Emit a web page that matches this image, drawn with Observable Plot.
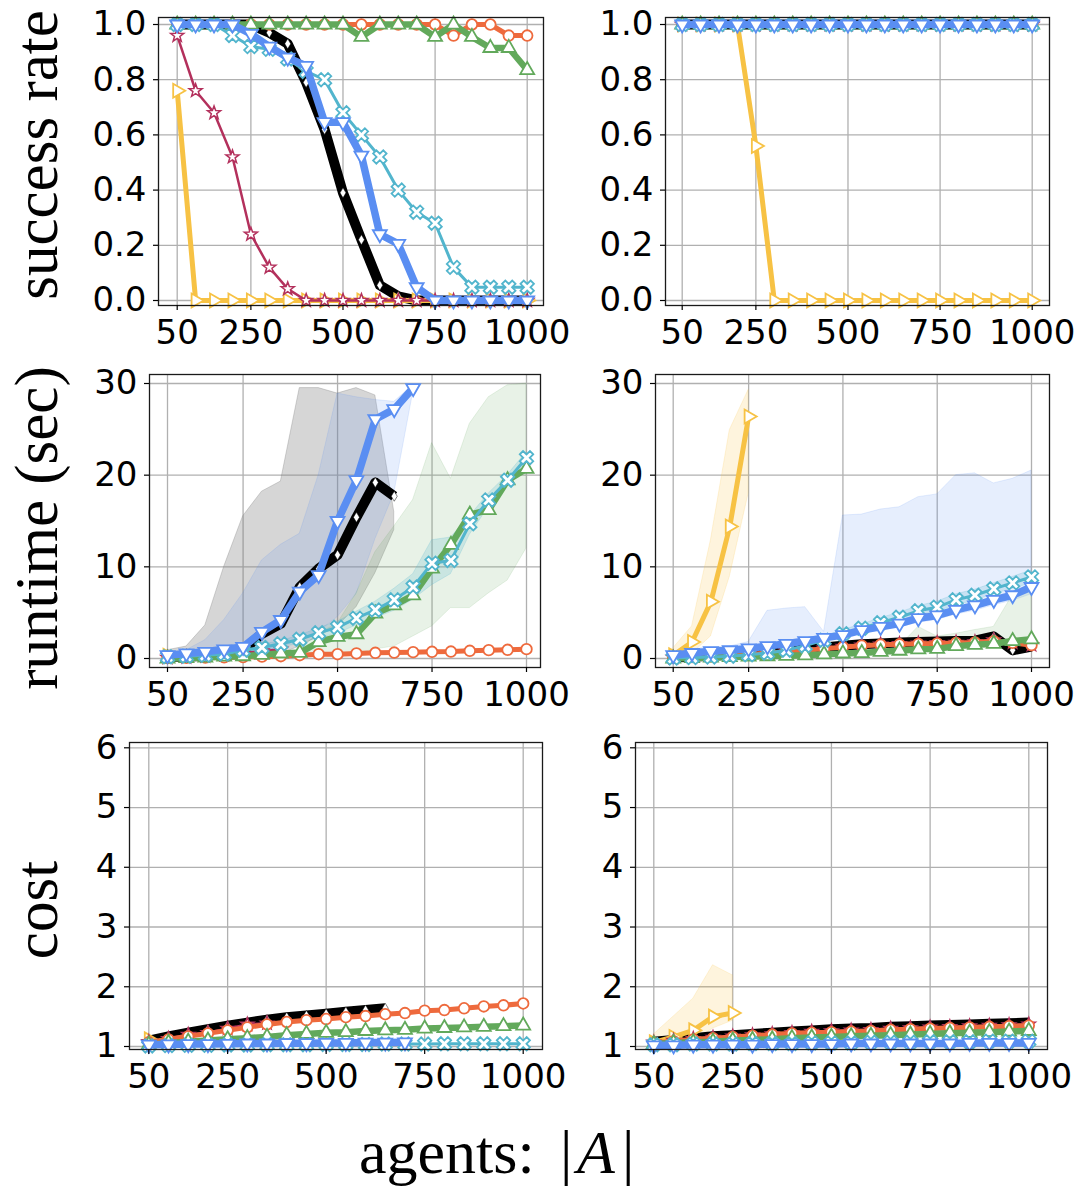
<!DOCTYPE html>
<html><head><meta charset="utf-8">
<script src="https://cdn.jsdelivr.net/npm/d3@7"></script>
<script src="https://cdn.jsdelivr.net/npm/@observablehq/plot@0.6"></script>
<style>
body{margin:0;background:#fff;}
#fig{position:relative;width:1078px;height:1192px;overflow:hidden;background:#fff;}
</style></head><body><div id="fig"></div><script>
const N = null;
// ---------- data ----------
const agents = [50,100,150,200,250,300,350,400,450,500,550,600,650,700,750,800,850,900,950,1000];
const xTickValues = [50,250,500,750,1000];
const successTicks = [0,0.2,0.4,0.6,0.8,1.0];
const runtimeTicks = [0,10,20,30];
const costTicks = [1,2,3,4,5,6];
const yLabels = ["success rate","runtime (sec)","cost"];
const xLabelText = "agents: ";

// success rate, left column
const successL_black   = [1,1,1,1,1,0.97,0.93,0.79,0.62,0.39,0.22,0.055,0.015,0,0,0,0,0,0,0];
const successL_yellow  = [0.76,0,0,0,0,0,0,0,0,0,0,0,0,0,0,0,0,0,0,0];
const successL_crimson = [0.96,0.76,0.68,0.52,0.24,0.12,0.042,0,0,0,0,0,0,0,0,0,0,0,0,0];
const successL_orange  = [1,1,1,1,1,1,1,1,1,1,1,1,1,1,1,0.96,1,1,0.96,0.96];
const successL_green   = [1,1,1,1,1,1,1,1,1,1,0.955,1,1,1,0.955,1,0.955,0.915,0.915,0.835];
const successL_cyan    = [1,1,1,0.96,0.92,0.91,0.875,0.83,0.80,0.68,0.60,0.52,0.40,0.32,0.28,0.12,0.048,0.048,0.048,0.048];
const successL_blue    = [1,1,1,1,0.966,0.92,0.88,0.85,0.646,0.646,0.525,0.24,0.205,0.048,0,0,0,0,0,0];

// success rate, right column
const successR_black   = [1,1,1,1,1,1,1,1,1,1,1,1,1,1,1,1,1,1,1,1];
const successR_yellow  = [1,1,1,1,0.56,0,0,0,0,0,0,0,0,0,0,0,0,0,0,0];
const successR_crimson = [1,1,1,1,1,1,1,1,1,1,1,1,1,1,1,1,1,1,1,1];
const successR_orange  = [1,1,1,1,1,1,1,1,1,1,1,1,1,1,1,1,1,1,1,1];
const successR_green   = [1,1,1,1,1,1,1,1,1,1,1,1,1,1,1,1,1,1,1,1];
const successR_cyan    = [1,1,1,1,1,1,1,1,1,1,1,1,1,1,1,1,1,1,1,1];
const successR_blue    = [1,1,1,1,1,1,1,1,1,1,1,1,1,1,1,1,1,1,1,1];

// runtime, left column
const runtimeL_black   = [0.2,0.2,0.3,0.6,0.9,2.7,3.8,7.8,9.8,11.3,15.4,19.2,17.7,N,N,N,N,N,N,N];
const runtimeL_yellow  = [0.3,N,N,N,N,N,N,N,N,N,N,N,N,N,N,N,N,N,N,N];
const runtimeL_crimson = [0.1,0.15,0.25,0.4,0.6,0.8,1.0,N,N,N,N,N,N,N,N,N,N,N,N,N];
const runtimeL_orange  = [0.05,0.07,0.1,0.12,0.15,0.2,0.25,0.36,0.47,0.47,0.55,0.62,0.65,0.69,0.73,0.76,0.84,0.91,0.95,1.02];
const runtimeL_green   = [0,0.05,0.1,0.2,0.25,0.4,0.55,0.62,1.8,2.36,2.65,4.9,5.8,6.9,9.8,12.4,15.7,16.2,19.45,20.7];
const runtimeL_cyan    = [0.2,0.25,0.35,0.5,0.9,1.2,1.6,2.1,2.8,3.4,4.4,5.3,6.4,7.8,10.4,10.7,14.7,17.3,19.45,21.9];
const runtimeL_blue    = [0.36,0.55,0.73,1.0,1.27,2.9,4.2,7.3,9.1,15.0,19.45,26.1,27.2,29.5,N,N,N,N,N,N];
const runtimeL_blackLo = [0,0,0,0,0.1,0.2,0.5,1.3,2.4,3.5,5.6,9.3,14,N,N,N,N,N,N,N];
const runtimeL_blackHi = [0.9,1.3,3.6,10,15.5,18.2,19.3,29.5,29.5,28.9,29.5,28.7,16,N,N,N,N,N,N,N];
const runtimeL_blueLo  = [0,0.1,0.2,0.3,0.5,0.8,1.2,2.0,2.9,4.5,7.0,13,18,29,N,N,N,N,N,N];
const runtimeL_blueHi  = [0.55,0.9,2,4.2,7.1,10.7,12.4,13.6,20,28.9,28.5,28.2,28.0,29.8,N,N,N,N,N,N];
const runtimeL_greenLo = [0,0,0,0,0,0.05,0.1,0.2,0.4,0.6,0.5,1.0,1.3,2.4,3.5,5.5,5.5,7.1,8.5,12];
const runtimeL_greenHi = [0.1,0.15,0.2,0.3,0.4,0.5,0.7,1.0,2.7,3.8,7.1,11.6,14.4,17.3,23.5,19.6,25.6,28.5,29.8,30];
const runtimeL_cyanLo  = [0.1,0.1,0.2,0.3,0.6,0.9,1.2,1.6,2.2,2.7,3.6,4.4,5.2,6.4,8.0,9.2,13.5,16.5,18.8,21.3];
const runtimeL_cyanHi  = [0.3,0.4,0.5,0.7,1.2,1.5,1.9,2.5,3.3,4.0,5.1,6.2,7.6,9.2,12.9,13.2,15.5,18,20,22.5];

// runtime, right column
const runtimeR_black   = [0.1,0.2,0.3,0.4,0.55,0.7,0.85,1.0,1.2,1.4,1.55,1.65,1.75,1.8,1.85,1.9,1.95,2.4,0.9,1.3];
const runtimeR_yellow  = [0.35,1.8,6.2,14.4,26.4,N,N,N,N,N,N,N,N,N,N,N,N,N,N,N];
const runtimeR_crimson = [0.1,0.18,0.28,0.38,0.5,0.65,0.8,0.95,1.1,1.3,1.45,1.55,1.6,1.65,1.7,1.75,1.8,2.0,1.75,1.5];
const runtimeR_orange  = [0.08,0.15,0.25,0.35,0.45,0.6,0.75,0.9,1.05,1.25,1.4,1.5,1.55,1.6,1.65,1.7,1.75,1.9,1.7,1.45];
const runtimeR_green   = [0,0.05,0.1,0.15,0.2,0.25,0.3,0.35,0.45,0.55,0.6,0.73,0.85,1.0,1.05,1.35,1.5,1.6,1.9,2.1];
const runtimeR_cyan    = [0.05,0.1,0.15,0.25,0.4,0.6,0.9,1.4,2.0,2.7,3.3,3.9,4.5,5.2,5.6,6.4,6.9,7.6,8.25,8.9];
const runtimeR_blue    = [0.36,0.6,0.8,0.9,1.1,1.35,1.6,1.9,2.25,2.55,3.1,3.45,3.8,4.4,4.7,5.3,5.8,6.4,6.9,7.8];
const runtimeR_yellowLo = [0,0.5,2.4,8.9,18,N,N,N,N,N,N,N,N,N,N,N,N,N,N,N];
const runtimeR_yellowHi = [1.1,3.5,12.9,24.9,29.3,N,N,N,N,N,N,N,N,N,N,N,N,N,N,N];
const runtimeR_blueLo  = [0.1,0.3,0.5,0.6,0.8,1.0,1.2,1.5,1.9,2.2,2.7,3.1,3.4,3.9,4.2,4.8,5.2,5.8,6.3,7.0];
const runtimeR_blueHi  = [0.7,1.0,1.2,1.3,1.8,5.2,5.45,5.6,2.9,15.6,15.7,16.25,16.5,17.6,17.9,20,20.2,19.1,19.6,20.5];
const runtimeR_greenLo = [0,0,0,0.05,0.1,0.1,0.15,0.2,0.25,0.3,0.35,0.45,0.55,0.7,0.75,0.95,1.1,1.2,1.5,1.7];
const runtimeR_greenHi = [0.1,0.15,0.2,0.25,0.3,0.4,0.45,0.5,0.65,0.8,0.9,1.0,1.3,3.45,2.4,2.7,3.1,3.45,6.9,7.45];
const runtimeR_cyanLo  = [0,0.05,0.1,0.15,0.3,0.45,0.7,1.1,1.7,2.4,3.0,3.5,4.1,4.7,5.1,5.8,6.3,7.0,7.6,8.2];
const runtimeR_cyanHi  = [0.15,0.2,0.3,0.4,0.6,0.8,1.1,1.7,2.4,3.1,3.7,4.4,5.0,5.7,6.2,7.0,7.5,8.2,8.9,9.6];

// cost, left column
const costL_black   = [1.1,1.17,1.23,1.29,1.35,1.4,1.45,1.49,1.52,1.55,1.58,1.61,1.64,N,N,N,N,N,N,N];
const costL_yellow  = [1.12,N,N,N,N,N,N,N,N,N,N,N,N,N,N,N,N,N,N,N];
const costL_crimson = [1.08,1.13,1.2,1.23,1.3,1.37,1.39,N,N,N,N,N,N,N,N,N,N,N,N,N];
const costL_orange  = [1.07,1.12,1.17,1.22,1.27,1.32,1.37,1.41,1.44,1.46,1.49,1.51,1.54,1.56,1.6,1.61,1.64,1.67,1.69,1.72];
const costL_green   = [1.03,1.06,1.08,1.1,1.12,1.14,1.16,1.19,1.21,1.23,1.24,1.26,1.27,1.28,1.3,1.31,1.32,1.33,1.34,1.35];
const costL_cyan    = [1.01,1.015,1.02,1.02,1.025,1.025,1.03,1.03,1.03,1.035,1.035,1.035,1.04,1.04,1.04,1.045,1.045,1.045,1.045,1.045];
const costL_blue    = [1.03,1.035,1.04,1.04,1.045,1.05,1.05,1.055,1.055,1.06,1.06,1.065,1.065,1.07,N,N,N,N,N,N];

// cost, right column
const costR_black   = [1.08,1.11,1.14,1.17,1.19,1.21,1.23,1.25,1.27,1.29,1.3,1.31,1.33,1.34,1.35,1.36,1.37,1.38,1.39,1.4];
const costR_yellow  = [1.07,1.16,1.27,1.5,1.56,N,N,N,N,N,N,N,N,N,N,N,N,N,N,N];
const costR_crimson = [1.07,1.1,1.13,1.15,1.17,1.19,1.21,1.23,1.25,1.26,1.27,1.28,1.3,1.31,1.32,1.33,1.34,1.35,1.36,1.37];
const costR_orange  = [1.06,1.09,1.12,1.14,1.16,1.18,1.2,1.22,1.23,1.24,1.25,1.26,1.28,1.29,1.3,1.31,1.32,1.33,1.34,1.35];
const costR_green   = [1.04,1.06,1.07,1.08,1.1,1.11,1.12,1.14,1.15,1.16,1.17,1.18,1.19,1.2,1.21,1.22,1.23,1.24,1.25,1.26];
const costR_cyan    = [1.03,1.03,1.04,1.04,1.04,1.05,1.05,1.05,1.06,1.06,1.06,1.07,1.07,1.07,1.08,1.08,1.08,1.09,1.09,1.09];
const costR_blue    = [1.02,1.02,1.03,1.03,1.03,1.03,1.04,1.04,1.04,1.04,1.05,1.05,1.05,1.05,1.05,1.05,1.06,1.06,1.06,1.06];
const costR_yellowLo = [1.0,1.03,1.07,1.3,1.43,N,N,N,N,N,N,N,N,N,N,N,N,N,N,N];
const costR_yellowHi = [1.2,1.5,1.8,2.36,2.19,N,N,N,N,N,N,N,N,N,N,N,N,N,N,N];

// ---------- styles ----------
function polySym(pts) {
  return {draw(ctx, size) {
    const R = Math.sqrt(size / Math.PI);
    ctx.moveTo(pts[0][0]*R, pts[0][1]*R);
    for (let i = 1; i < pts.length; i++) ctx.lineTo(pts[i][0]*R, pts[i][1]*R);
    ctx.closePath();
  }};
}
const triDown = polySym([[0,1.15],[-0.996,-0.575],[0.996,-0.575]]);
const triUp = polySym([[0,-1.15],[0.996,0.575],[-0.996,0.575]]);
const triRight = polySym([[1.15,0],[-0.575,0.996],[-0.575,-0.996]]);
const diamondSym = polySym([[0,-1],[0.6,0],[0,1],[-0.6,0]]);
const starSym = polySym(d3.range(10).map(i => {
  const a = -Math.PI/2 + i*Math.PI/5, rr = i % 2 ? 0.47 : 1.15;
  return [rr*Math.cos(a), rr*Math.sin(a)];
}));
const xSym = (() => {
  const a = 0.32, L = 1.0;
  const plus = [[a,-L],[a,-a],[L,-a],[L,a],[a,a],[a,L],[-a,L],[-a,a],[-L,a],[-L,-a],[-a,-a],[-a,-L]];
  return polySym(plus.map(([x,y]) => [(x-y)/Math.SQRT2, (x+y)/Math.SQRT2]));
})();
const circleSym = {draw(ctx, size){ const R = Math.sqrt(size/Math.PI); ctx.moveTo(R,0); ctx.arc(0,0,R,0,2*Math.PI); ctx.closePath(); }};

const seriesStyle = {
  black:   {color:"#000000", lw:10,  sym:diamondSym, r:5,   mstroke:"#000000", msw:0.5},
  yellow:  {color:"#f7c244", lw:5,   sym:triRight,   r:7,   mstroke:"#f7c244", msw:1.8},
  crimson: {color:"#b3305c", lw:2.5, sym:starSym,    r:6,   mstroke:"#b3305c", msw:1.5},
  orange:  {color:"#ee6a3d", lw:5,   sym:circleSym,  r:5.3, mstroke:"#ee6a3d", msw:1.8},
  green:   {color:"#62a95b", lw:6.5, sym:triUp,      r:7,   mstroke:"#62a95b", msw:1.8},
  cyan:    {color:"#52b5cd", lw:3,   sym:xSym,       r:7.2, mstroke:"#52b5cd", msw:1.8},
  blue:    {color:"#5a8ef2", lw:7.5, sym:triDown,    r:7,   mstroke:"#5a8ef2", msw:1.8}
};
const drawOrder = ["black","yellow","crimson","orange","green","cyan","blue"];
const bandStyle = {
  black:  {color:"#808080", opacity:0.32},
  blue:   {color:"#5a8ef2", opacity:0.15},
  green:  {color:"#62a95b", opacity:0.15},
  cyan:   {color:"#52b5cd", opacity:0.2},
  yellow: {color:"#f7c244", opacity:0.18}
};

const panels = [
  {frame:[158,17,543,305], xRef:[176.7,526.7], yRef:[[0,300],[1,24]], yTicks:successTicks, yFmt:d3.format(".1f"),
   series:{black:successL_black,yellow:successL_yellow,crimson:successL_crimson,orange:successL_orange,green:successL_green,cyan:successL_cyan,blue:successL_blue}, bands:[]},
  {frame:[665,17,1049,305], xRef:[681.7,1031.7], yRef:[[0,300],[1,24]], yTicks:successTicks, yFmt:d3.format(".1f"),
   series:{black:successR_black,yellow:successR_yellow,crimson:successR_crimson,orange:successR_orange,green:successR_green,cyan:successR_cyan,blue:successR_blue}, bands:[]},
  {frame:[149,374,540,667], xRef:[167,526], yRef:[[0,658],[30,383]], yTicks:runtimeTicks, yFmt:d3.format("d"),
   series:{black:runtimeL_black,yellow:runtimeL_yellow,crimson:runtimeL_crimson,orange:runtimeL_orange,green:runtimeL_green,cyan:runtimeL_cyan,blue:runtimeL_blue},
   bands:[["black",runtimeL_blackLo,runtimeL_blackHi],["blue",runtimeL_blueLo,runtimeL_blueHi],["green",runtimeL_greenLo,runtimeL_greenHi],["cyan",runtimeL_cyanLo,runtimeL_cyanHi]]},
  {frame:[655,374,1049,667], xRef:[672.7,1031], yRef:[[0,658],[30,383]], yTicks:runtimeTicks, yFmt:d3.format("d"),
   series:{black:runtimeR_black,yellow:runtimeR_yellow,crimson:runtimeR_crimson,orange:runtimeR_orange,green:runtimeR_green,cyan:runtimeR_cyan,blue:runtimeR_blue},
   bands:[["yellow",runtimeR_yellowLo,runtimeR_yellowHi],["blue",runtimeR_blueLo,runtimeR_blueHi],["green",runtimeR_greenLo,runtimeR_greenHi],["cyan",runtimeR_cyanLo,runtimeR_cyanHi]]},
  {frame:[129,742,542,1049], xRef:[148.3,522.7], yRef:[[1,1046],[6,747.3]], yTicks:costTicks, yFmt:d3.format("d"),
   series:{black:costL_black,yellow:costL_yellow,crimson:costL_crimson,orange:costL_orange,green:costL_green,cyan:costL_cyan,blue:costL_blue}, bands:[]},
  {frame:[635,742,1047,1049], xRef:[653.3,1028.3], yRef:[[1,1046],[6,747.3]], yTicks:costTicks, yFmt:d3.format("d"),
   series:{black:costR_black,yellow:costR_yellow,crimson:costR_crimson,orange:costR_orange,green:costR_green,cyan:costR_cyan,blue:costR_blue},
   bands:[["yellow",costR_yellowLo,costR_yellowHi]]}
];

function domainFrom(a, b, p1, v1, p2, v2) {
  const k = (p2 - p1) / (v2 - v1);
  return [v1 + (a - p1) / k, v1 + (b - p1) / k];
}

const fig = document.getElementById("fig");
const tickFont = "DejaVu Sans";
const tickSizePx = 34;
for (const cfg of panels) {
  const [l, t, r, b] = cfg.frame;
  const mL = 120, mR = 55, mT = 20, mB = 70;
  const width = (r - l) + mL + mR, height = (b - t) + mT + mB;
  const xDomain = domainFrom(l, r, cfg.xRef[0], 50, cfg.xRef[1], 1000);
  const yDomain = domainFrom(b, t, cfg.yRef[0][1], cfg.yRef[0][0], cfg.yRef[1][1], cfg.yRef[1][0]);
  const marks = [
    Plot.gridX(xTickValues, {stroke:"#b0b0b0", strokeOpacity:1, strokeWidth:1.3}),
    Plot.gridY(cfg.yTicks, {stroke:"#b0b0b0", strokeOpacity:1, strokeWidth:1.3})
  ];
  for (const [name, lo, hi] of cfg.bands) {
    const bs = bandStyle[name];
    const rows = agents.map((x, i) => ({x, lo: lo[i], hi: hi[i]}));
    marks.push(Plot.areaY(rows, {x:"x", y1:"lo", y2:"hi", fill:bs.color, fillOpacity:bs.opacity,
      stroke:bs.color, strokeOpacity:bs.opacity, strokeWidth:1}));
  }
  for (const name of drawOrder) {
    const vals = cfg.series[name];
    if (!vals) continue;
    const st = seriesStyle[name];
    const rows = agents.map((x, i) => ({x, y: vals[i]}));
    marks.push(Plot.line(rows, {x:"x", y:"y", stroke:st.color, strokeWidth:st.lw, strokeLinejoin:"round", strokeLinecap:"butt"}));
    marks.push(Plot.dot(rows.filter(d => d.y != null), {x:"x", y:"y", r:st.r, symbol:st.sym, fill:"white", stroke:st.mstroke, strokeWidth:st.msw}));
  }
  marks.push(Plot.frame({stroke:"#1a1a1a", strokeWidth:1.3}));
  marks.push(Plot.axisX(xTickValues, {tickSize:5, tickPadding:9, fontSize:tickSizePx, fontFamily:tickFont, label:null, tickFormat:d3.format("d"), stroke:"#000", strokeWidth:1.2}));
  marks.push(Plot.axisY(cfg.yTicks, {tickSize:5, tickPadding:7, fontSize:tickSizePx, fontFamily:tickFont, label:null, tickFormat:cfg.yFmt, stroke:"#000", strokeWidth:1.2}));
  const svg = Plot.plot({
    width, height, marginLeft:mL, marginRight:mR, marginTop:mT, marginBottom:mB,
    x:{domain:xDomain, label:null}, y:{domain:yDomain, label:null},
    style:{background:"transparent", overflow:"visible", color:"#000"},
    marks
  });
  svg.style.position = "absolute";
  svg.style.left = (l - mL) + "px";
  svg.style.top = (t - mT) + "px";
  fig.appendChild(svg);
}

// axis titles
const over = d3.select(fig).append("svg")
  .attr("width",1078).attr("height",1192)
  .style("position","absolute").style("left","0px").style("top","0px").style("pointer-events","none");
const serif = "Liberation Serif, DejaVu Serif, serif";
const yLabelPos = [[57,155],[57,528],[57,910]];
yLabels.forEach((txt, i) => {
  const [bx, cy] = yLabelPos[i];
  over.append("text").attr("transform",`translate(${bx},${cy}) rotate(-90)`)
    .attr("text-anchor","middle").attr("font-family",serif).attr("font-size",61).attr("fill","#000").text(txt);
});
const xl = over.append("text").attr("x",359).attr("y",1173).attr("font-family",serif).attr("font-size",62).attr("fill","#000");
xl.append("tspan").text(xLabelText);
xl.append("tspan").attr("x",560).text("|");
xl.append("tspan").attr("x",577).attr("font-style","italic").text("A");
xl.append("tspan").attr("x",622).text("|");
</script></body></html>
